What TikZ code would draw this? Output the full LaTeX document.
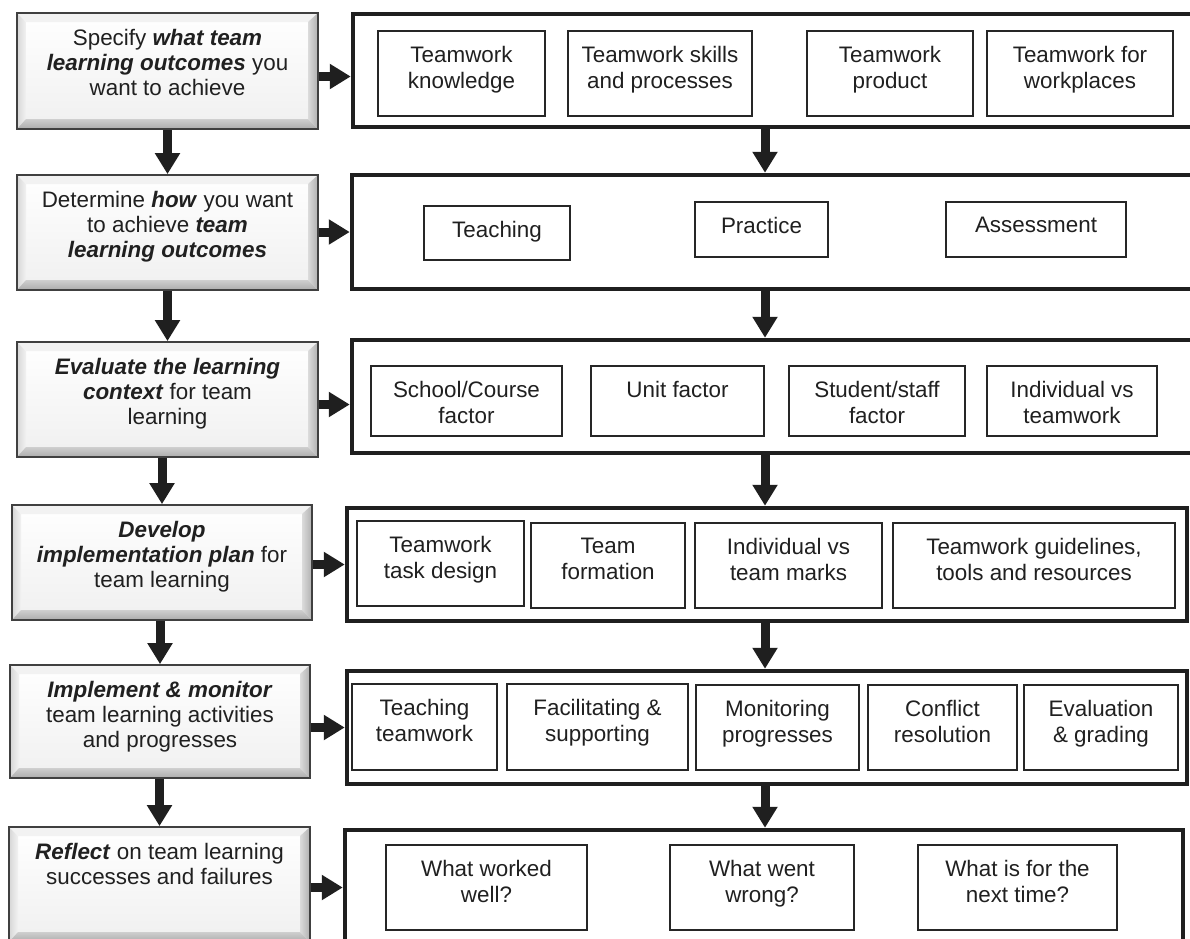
\documentclass[tikz,border=0pt]{standalone}
\usepackage{fontspec}
\setmainfont{Liberation Sans}
\usetikzlibrary{arrows.meta, positioning, fit, calc}
\definecolor{inkgray}{HTML}{202020}
\newcommand{\bfit}[1]{\textbf{\textit{#1}}}

\begin{document}
\begin{tikzpicture}[
    x=1pt, y=-1pt,
    stepbox/.style={
        rectangle, inner sep=0pt,
        draw=black!75, line width=1.8pt,
        top color=white, bottom color=gray!12,
        path picture={
            \path (path picture bounding box.south west) coordinate (bvsw)
                  (path picture bounding box.north east) coordinate (bvne);
            \fill[gray!10] (bvsw |- bvne) -- (bvne) -- ($(bvne)+(-9pt,-9pt)$)
                -- ($(bvsw |- bvne)+(9pt,-9pt)$) -- cycle;
            \shade[left color=gray!32, right color=gray!10] (bvsw |- bvne)
                -- ($(bvsw |- bvne)+(9pt,-9pt)$) -- ($(bvsw)+(9pt,10pt)$) -- (bvsw) -- cycle;
            \shade[left color=gray!28, right color=gray!62] (bvne)
                -- (bvne |- bvsw) -- ($(bvne |- bvsw)+(-10pt,10pt)$) -- ($(bvne)+(-10pt,-9pt)$) -- cycle;
            \shade[top color=gray!38, bottom color=gray!65] (bvsw)
                -- ($(bvsw)+(9pt,10pt)$) -- ($(bvne |- bvsw)+(-10pt,10pt)$) -- (bvne |- bvsw) -- cycle;
        }
    },
    steptext/.style={
        anchor=north, yshift=-17pt, inner sep=0pt,
        align=center, text=inkgray,
        font=\fontsize{22.4}{25.2}\selectfont
    },
    panelbox/.style={
        rectangle, inner sep=0pt,
        draw=black!88, line width=4.5pt, fill=white
    },
    itembox/.style={
        rectangle, inner sep=0pt,
        draw=black!85, line width=1.6pt, fill=white
    },
    itemtext/.style={
        anchor=north, yshift=-16pt, inner sep=0pt,
        align=center, text=inkgray,
        font=\fontsize{22.4}{25.5}\selectfont
    },
    link/.style={-{Triangle[length=21pt, width=24pt]}, line width=9pt, draw=black!88}
]

\useasboundingbox (0,0) rectangle (1190,938);
\fill[white] (0,0) rectangle (1190,938);

% steps on the left
\node[stepbox, fit={(17,13) (318,129)},
    label={[steptext]north:{Specify \bfit{what team}\\\bfit{learning outcomes} you\\want to achieve}}] (specify) {};
\node[stepbox, fit={(17,175) (318,290)},
    label={[steptext]north:{Determine \bfit{how} you want\\to achieve \bfit{team}\\\bfit{learning outcomes}}}] (determine) {};
\node[stepbox, fit={(17,342) (318,457)},
    label={[steptext]north:{\bfit{Evaluate the learning}\\\bfit{context} for team\\learning}}] (evaluate) {};
\node[stepbox, fit={(12,505) (312,620)},
    label={[steptext]north:{\bfit{Develop}\\\bfit{implementation plan} for\\team learning}}] (develop) {};
\node[stepbox, fit={(10,665) (310,778)},
    label={[steptext]north:{\bfit{Implement \& monitor}\\team learning activities\\and progresses}}] (implement) {};
\node[stepbox, fit={(9,827) (310,942)},
    label={[steptext]north:{\bfit{Reflect} on team learning\\successes and failures}}] (reflect) {};

% panels on the right
\node[panelbox, fit={(353,14) (1194,127)}] (outcomes) {};
\node[panelbox, fit={(352,175) (1194,289)}] (ways) {};
\node[panelbox, fit={(352,340) (1194,453)}] (context) {};
\node[panelbox, fit={(347,508) (1187,621)}] (plan) {};
\node[panelbox, fit={(347,671) (1187,784)}] (activities) {};
\node[panelbox, fit={(345,830) (1183,945)}] (review) {};

% items in the panels
\node[itembox, fit={(378,31) (545,116)}, label={[itemtext]north:{Teamwork\\knowledge}}] (knowledge) {};
\node[itembox, fit={(568,31) (752,116)}, label={[itemtext]north:{Teamwork skills\\and processes}}] (skills) {};
\node[itembox, fit={(807,31) (973,116)}, label={[itemtext]north:{Teamwork\\product}}] (product) {};
\node[itembox, fit={(987,31) (1173,116)}, label={[itemtext]north:{Teamwork for\\workplaces}}] (workplaces) {};

\node[itembox, fit={(424,206) (570,260)}, label={[itemtext]north:{Teaching}}] (teaching) {};
\node[itembox, fit={(695,202) (828,257)}, label={[itemtext]north:{Practice}}] (practice) {};
\node[itembox, fit={(946,202) (1126,257)}, label={[itemtext]north:{Assessment}}] (assessment) {};

\node[itembox, fit={(371,366) (562,436)}, label={[itemtext]north:{School/Course\\factor}}] (school) {};
\node[itembox, fit={(591,366) (764,436)}, label={[itemtext]north:{Unit factor}}] (unit) {};
\node[itembox, fit={(789,366) (965,436)}, label={[itemtext]north:{Student/staff\\factor}}] (student) {};
\node[itembox, fit={(987,366) (1157,436)}, label={[itemtext]north:{Individual vs\\teamwork}}] (individual) {};

\node[itembox, fit={(357,521) (524,606)}, label={[itemtext]north:{Teamwork\\task design}}] (taskdesign) {};
\node[itembox, fit={(531,523) (685,608)}, label={[itemtext]north:{Team\\formation}}] (formation) {};
\node[itembox, fit={(695,523) (882,608)}, label={[itemtext]north:{Individual vs\\team marks}}] (marks) {};
\node[itembox, fit={(893,523) (1175,608)}, label={[itemtext]north:{Teamwork guidelines,\\tools and resources}}] (guidelines) {};

\node[itembox, fit={(352,684) (497,770)}, label={[itemtext]north:{Teaching\\teamwork}}] (teachtw) {};
\node[itembox, fit={(507,684) (688,770)}, label={[itemtext]north:{Facilitating \&\\supporting}}] (facilitating) {};
\node[itembox, fit={(696,685) (859,770)}, label={[itemtext]north:{Monitoring\\progresses}}] (monitoring) {};
\node[itembox, fit={(868,685) (1017,770)}, label={[itemtext]north:{Conflict\\resolution}}] (conflict) {};
\node[itembox, fit={(1024,685) (1178,770)}, label={[itemtext]north:{Evaluation\\\& grading}}] (grading) {};

\node[itembox, fit={(386,845) (587,930)}, label={[itemtext]north:{What worked\\well?}}] (workedwell) {};
\node[itembox, fit={(670,845) (854,930)}, label={[itemtext]north:{What went\\wrong?}}] (wentwrong) {};
\node[itembox, fit={(918,845) (1117,930)}, label={[itemtext]north:{What is for the\\next time?}}] (nexttime) {};

% arrows
\coordinate (mid) at (765,0);

\draw[link] (specify.south -| determine.north) -- (determine.north);
\draw[link] (determine.south -| evaluate.north) -- (evaluate.north);
\draw[link] (evaluate.south -| develop.north) -- (develop.north);
\draw[link] (develop.south -| implement.north) -- (implement.north);
\draw[link] (implement.south -| reflect.north) -- (reflect.north);

\draw[link] ([yshift=-6pt]outcomes.west -| specify.east) -- ([yshift=-6pt]outcomes.west);
\draw[link] (ways.west -| determine.east) -- (ways.west);
\draw[link] ([yshift=-8pt]context.west -| evaluate.east) -- ([yshift=-8pt]context.west);
\draw[link] (plan.west -| develop.east) -- (plan.west);
\draw[link] (activities.west -| implement.east) -- (activities.west);
\draw[link] (review.west -| reflect.east) -- (review.west);

\draw[link] (outcomes.south -| mid) -- (ways.north -| mid);
\draw[link] (ways.south -| mid) -- (context.north -| mid);
\draw[link] (context.south -| mid) -- (plan.north -| mid);
\draw[link] (plan.south -| mid) -- (activities.north -| mid);
\draw[link] (activities.south -| mid) -- (review.north -| mid);

\end{tikzpicture}
\end{document}
